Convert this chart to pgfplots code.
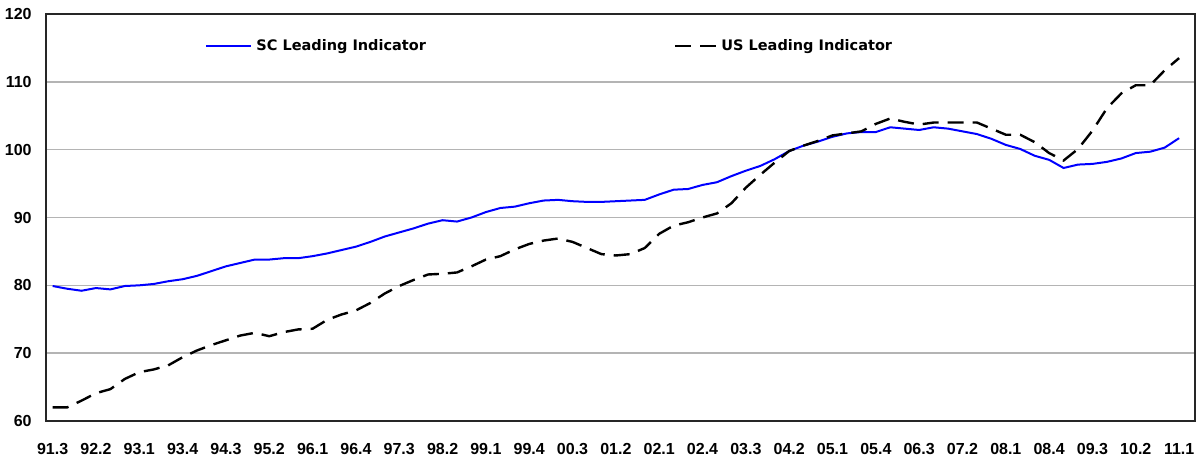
\documentclass[border=0pt]{standalone}
\usepackage{fontspec}
\setmainfont{Liberation Sans}
\newfontfamily\legfont{DejaVu Sans}
\usepackage{pgfplots}
\pgfplotsset{compat=1.18}

\definecolor{scblue}{HTML}{0000FF}
\definecolor{gridgray}{HTML}{B4B4B4}

\pgfplotsset{
  sclegend/.style={legend image code/.code={\draw[##1] (0pt,0pt) -- (22.5pt,0pt);}},
  uslegend/.style={legend image code/.code={\draw[##1] (0pt,0pt) -- (20.5pt,0pt);}},
}

% quarterly index, 0 = 91.3 ... 78 = 11.1
\pgfplotstableread{
i sc us
0 79.9 62.0
1 79.5 62.0
2 79.2 63.0
3 79.6 64.1
4 79.4 64.7
5 79.9 66.2
6 80.0 67.2
7 80.2 67.6
8 80.6 68.2
9 80.9 69.4
10 81.4 70.4
11 82.1 71.2
12 82.8 71.9
13 83.3 72.6
14 83.8 73.0
15 83.8 72.5
16 84.0 73.1
17 84.0 73.5
18 84.3 73.6
19 84.7 74.9
20 85.2 75.7
21 85.7 76.3
22 86.4 77.4
23 87.2 78.8
24 87.8 79.9
25 88.4 80.8
26 89.1 81.6
27 89.6 81.7
28 89.4 81.9
29 90.0 82.8
30 90.8 83.8
31 91.4 84.3
32 91.6 85.3
33 92.1 86.1
34 92.5 86.6
35 92.6 86.9
36 92.4 86.4
37 92.3 85.5
38 92.3 84.6
39 92.4 84.4
40 92.5 84.6
41 92.6 85.5
42 93.4 87.6
43 94.1 88.8
44 94.2 89.3
45 94.8 90.0
46 95.2 90.6
47 96.1 92.1
48 96.9 94.4
49 97.6 96.3
50 98.6 98.1
51 99.8 99.8
52 100.6 100.6
53 101.2 101.3
54 101.9 102.1
55 102.4 102.4
56 102.6 102.7
57 102.6 103.8
58 103.3 104.6
59 103.1 104.1
60 102.9 103.7
61 103.3 104.0
62 103.1 104.0
63 102.7 104.0
64 102.3 104.0
65 101.6 103.1
66 100.7 102.2
67 100.1 102.2
68 99.1 101.1
69 98.5 99.5
70 97.3 98.4
71 97.8 100.1
72 97.9 102.8
73 98.2 106.1
74 98.7 108.3
75 99.5 109.5
76 99.7 109.5
77 100.3 111.7
78 101.7 113.5
}\leading

\begin{document}
\begin{tikzpicture}
\begin{axis}[
name=ax,
scale only axis=true,
width=574.5pt,height=203.5pt,
xmin=-0.46,xmax=79.1,ymin=60,ymax=120,
xtick={0,3,...,78},
xticklabels={91.3,92.2,93.1,93.4,94.3,95.2,96.1,96.4,97.3,98.2,99.1,99.4,00.3,01.2,02.1,02.4,03.3,04.2,05.1,05.4,06.3,07.2,08.1,08.4,09.3,10.2,11.1},
ytick={60,70,...,120},
major tick length=0pt,
ymajorgrids=true,
grid style={gridgray,line width=0.75pt},
axis line style={black!85,line width=0.8pt},
tick label style={font=\fontsize{8}{9}\selectfont\bfseries},
/pgf/number format/assume math mode=true,
xticklabel style={anchor=north,inner sep=0pt,yshift=-11pt},
yticklabel style={anchor=east,inner sep=0pt,xshift=-7pt},
legend columns=2,
legend style={at={(0.1384,0.921)},anchor=west,draw=none,fill=none,
  inner sep=0pt,font=\legfont\fontsize{7.25}{8}\selectfont\bfseries,
  /tikz/every even column/.append style={column sep=122pt}},
legend cell align=left,
]
\addplot[scblue,line width=1pt,no marks,sclegend]
  table[x=i,y=sc] {\leading};
\addlegendentry{SC Leading Indicator}
\addplot[black,line width=1.2pt,no marks,dash pattern=on 8pt off 4.5pt,uslegend]
  table[x=i,y=us] {\leading};
\addlegendentry{US Leading Indicator}
\end{axis}
\pgfresetboundingbox
\path ([shift={(-23pt,-18.5pt)}]ax.south west) rectangle ([shift={(0.5pt,7pt)}]ax.north east);
\end{tikzpicture}
\end{document}
